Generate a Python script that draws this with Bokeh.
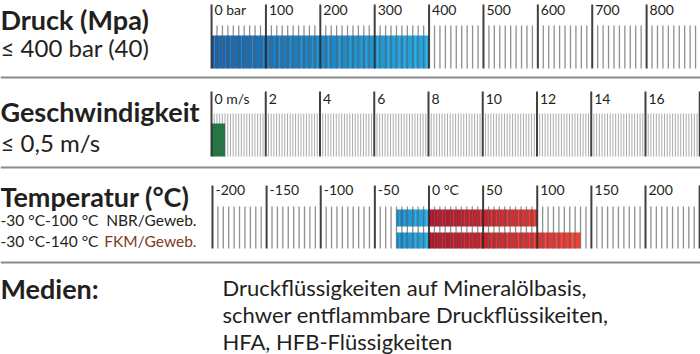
import numpy as np
from bokeh.plotting import figure
from bokeh.models import Range1d
from bokeh.embed import file_html
from bokeh.resources import INLINE
from bokeh.core.properties import value

# ---------------- data ----------------
pressure_major = [0, 100, 200, 300, 400, 500, 600, 700, 800]
pressure_labels = ["0 bar", "100", "200", "300", "400", "500", "600", "700", "800"]
pressure_minor_step = 10
pressure_tick_max = 890
pressure_bar = [0, 400]

speed_major = [0, 2, 4, 6, 8, 10, 12, 14, 16, 18]
speed_labels = ["0 m/s", "2", "4", "6", "8", "10", "12", "14", "16", ""]
speed_minor_step = 0.1
speed_tick_max = 18
speed_bar = [0, 0.5]

temp_major = [-200, -150, -100, -50, 0, 50, 100, 150, 200, 250]
temp_labels = ["-200", "-150", "-100", "-50", "0 °C", "50", "100", "150", "200", ""]
temp_minor_step = 5
temp_tick_min = -200
temp_tick_max = 250
nbr_range = [-30, 100]
fkm_range = [-30, 140]

left_titles = ["Druck (Mpa)", "Geschwindigkeit", "Temperatur (°C)", "Medien:"]
left_subs = ["≤ 400 bar (40)", "≤ 0,5 m/s"]
temp_lines = ["-30 °C-100 °C", "-30 °C-140 °C"]
temp_materials = ["NBR/Geweb.", "FKM/Geweb."]
medien_lines = ["Druckflüssigkeiten auf Mineralölbasis,",
                "schwer entflammbare Druckflüssikeiten,",
                "HFA, HFB-Flüssigkeiten"]

FONT = value("Lato")
DARK = "#231f20"
TY = -6  # text baseline correction

p = figure(width=700, height=354, output_backend="svg", toolbar_location=None,
           x_range=Range1d(0, 700), y_range=Range1d(354, 0),
           x_axis_type=None, y_axis_type=None,
           min_border=0, outline_line_color=None)
p.grid.visible = False
p.extra_x_ranges = {
    "bar": Range1d(-388.1, 899.1),
    "ms": Range1d(-7.779, 18.028),
    "c": Range1d(-395.8, 250.8),
}


def hexlerp(c0, c1, t):
    a = [int(c0[i:i + 2], 16) for i in (1, 3, 5)]
    b = [int(c1[i:i + 2], 16) for i in (1, 3, 5)]
    return "#%02x%02x%02x" % tuple(int(round(a[k] + (b[k] - a[k]) * t)) for k in range(3))


def gradient_bar(lo, hi, top, bottom, c0, c1, rng, n, g_lo=None, g_hi=None):
    g_lo = lo if g_lo is None else g_lo
    g_hi = hi if g_hi is None else g_hi
    edges = np.linspace(lo, hi, n + 1)
    mids = (edges[:-1] + edges[1:]) / 2
    cols = [hexlerp(c0, c1, (m - g_lo) / (g_hi - g_lo)) for m in mids]
    rights = edges[1:].copy()
    rights[:-1] += (hi - lo) / n * 0.08
    p.quad(left=edges[:-1], right=rights,
           top=top, bottom=bottom, fill_color=cols, line_color=None,
           x_range_name=rng)


def ticks(major, minor_lo, minor_hi, step, rng, maj_top, min_top, bottom,
          minor_color="#555555", minor_alpha=0.65, minor_w=1.3):
    n = int(round((minor_hi - minor_lo) / step))
    minors = [minor_lo + i * step for i in range(n + 1)]
    minors = [m for m in minors if all(abs(m - M) > step * 0.3 for M in major)]
    p.segment(x0=minors, y0=min_top, x1=minors, y1=bottom, line_color=minor_color,
              line_alpha=minor_alpha, line_width=minor_w, x_range_name=rng)
    p.segment(x0=major, y0=maj_top, x1=major, y1=bottom, line_color="#2b2b2b",
              line_alpha=0.9, line_width=2, x_range_name=rng)


def tick_labels(major, labels, rng, baseline, size="14px"):
    p.text(x=major, y=baseline + TY, text=labels, x_offset=3, text_font=FONT,
           text_font_size=size, text_color=DARK, text_baseline="alphabetic",
           x_range_name=rng)


# ---------------- pressure ----------------
gradient_bar(pressure_bar[0], pressure_bar[1], 35, 68, "#1864ab", "#22a6e0", "bar", 80)
ticks(pressure_major, 0, pressure_tick_max, pressure_minor_step, "bar", 4, 25, 68)
tick_labels(pressure_major, pressure_labels, "bar", 15)

# ---------------- speed ----------------
p.quad(left=speed_bar[0], right=speed_bar[1], top=123, bottom=156,
       fill_color="#167a3c", line_color=None, x_range_name="ms")
ticks(speed_major, 0, speed_tick_max, speed_minor_step, "ms", 91, 113, 156,
      minor_color="#666666", minor_alpha=0.55, minor_w=1.0)
tick_labels(speed_major, speed_labels, "ms", 104)

# ---------------- temperature ----------------
for rng_, top_, bot_ in ((nbr_range, 209, 226), (fkm_range, 232, 248)):
    gradient_bar(rng_[0], 0, top_, bot_, "#198bcf", "#2aa7e1", "c", 12,
                 g_lo=fkm_range[0], g_hi=0)
    gradient_bar(0, rng_[1], top_, bot_, "#b0132a", "#ee4436", "c",
                 int(rng_[1] / 2.5), g_lo=0, g_hi=fkm_range[1])
ticks(temp_major, temp_tick_min, temp_tick_max, temp_minor_step, "c", 185, 206, 248)
tick_labels(temp_major, temp_labels, "c", 195)

# ---------------- separators ----------------
p.segment(x0=[0, 0, 0], y0=[77, 167, 262], x1=[700, 700, 700], y1=[77, 167, 262],
          line_color="#8a8a8a", line_width=2)

# ---------------- left texts ----------------
def txt(xs, ys, texts, size, bold=False, color=DARK, align="left"):
    p.text(x=xs, y=[y + TY for y in ys], text=texts, text_font=FONT,
           text_font_style="bold" if bold else "normal", text_font_size=size,
           text_color=color, text_baseline="alphabetic", text_align=align)


txt([0, 0, 0, 0], [25, 117, 202, 294], left_titles, "27px", bold=True)
txt([0, 0], [53, 148], left_subs, "24px")
txt([0, 0], [225, 246], temp_lines, "15.5px")
txt([196, 196], [225, 246], temp_materials, "15.5px", color=[DARK, "#7a3b22"],
    align="right")
txt([222, 222, 222], [293, 320, 347], medien_lines, "22px")

open("out.html", "w").write(file_html(p, INLINE))
